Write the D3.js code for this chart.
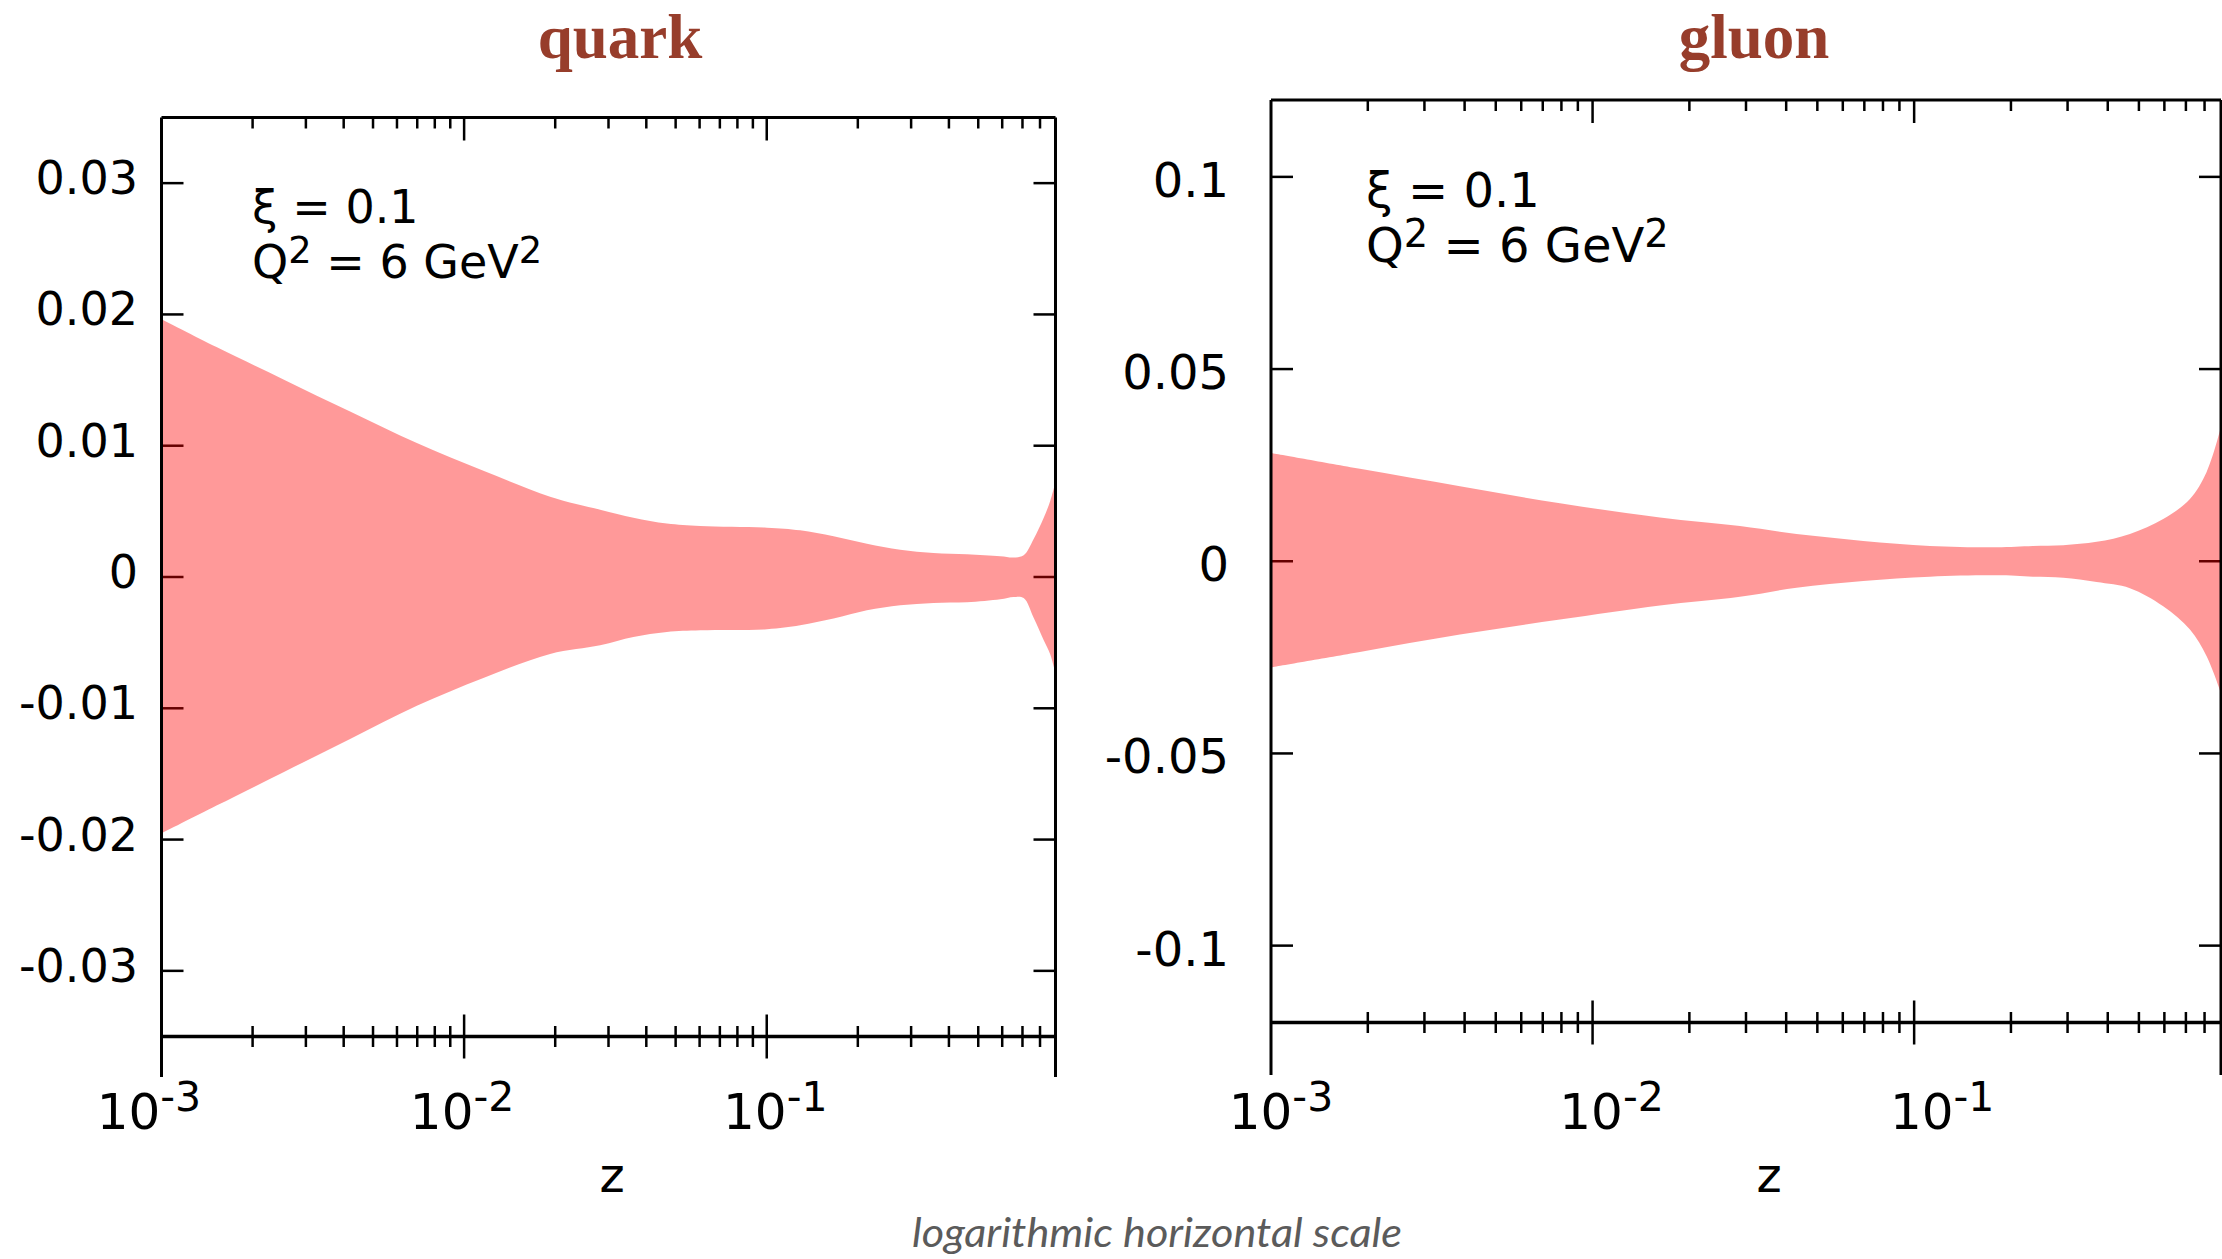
<!DOCTYPE html>
<html>
<head>
<meta charset="utf-8">
<title>quark / gluon bands</title>
<script src="https://cdn.jsdelivr.net/npm/d3@7"></script>
<style>
  body { margin: 0; background: #ffffff; }
  svg { display: block; }
</style>
</head>
<body>
<svg width="2222" height="1259" id="mainsvg"></svg>
<script>
// values; z on a log axis, band edges per panel
const quarkZ     = [0.001, 0.00152, 0.00253, 0.0042, 0.00698, 0.01158, 0.01924, 0.02816, 0.03627, 0.04678, 0.06031, 0.1002, 0.129, 0.1663, 0.2144, 0.2762, 0.3559, 0.4589, 0.5913, 0.6545, 0.7063, 0.7621, 0.8222, 0.865, 0.9];
const quarkUpper = [0.01964, 0.01752, 0.01505, 0.0126, 0.0102, 0.00809, 0.00612, 0.00513, 0.00452, 0.00407, 0.00389, 0.00376, 0.00356, 0.0031, 0.00254, 0.00208, 0.00183, 0.00173, 0.00158, 0.00148, 0.00165, 0.0029, 0.0045, 0.0058, 0.00724];
const quarkLower = [-0.01953, -0.01741, -0.01487, -0.01234, -0.00981, -0.00769, -0.00586, -0.0052, -0.00457, -0.00419, -0.00406, -0.00398, -0.00368, -0.00317, -0.00254, -0.00216, -0.00198, -0.00193, -0.0017, -0.00152, -0.0016, -0.0031, -0.0048, -0.0059, -0.00736];

const gluonZ     = [0.001, 0.00189, 0.00387, 0.00792, 0.0162, 0.02873, 0.0431, 0.0695, 0.112, 0.1805, 0.234, 0.2908, 0.3694, 0.4688, 0.595, 0.7205, 0.812, 0.9];
const gluonUpper = [0.02814, 0.02404, 0.01951, 0.01507, 0.01141, 0.00915, 0.00706, 0.0053, 0.004, 0.00366, 0.004, 0.00418, 0.00505, 0.0071, 0.0110, 0.0162, 0.0232, 0.0349];
const gluonLower = [-0.02761, -0.0236, -0.01908, -0.01516, -0.0115, -0.00925, -0.00688, -0.00514, -0.004, -0.00366, -0.004, -0.00427, -0.0054, -0.0070, -0.0117, -0.01777, -0.0247, -0.0343];

const quarkYTicks = [-0.03, -0.02, -0.01, 0, 0.01, 0.02, 0.03];
const gluonYTicks = [-0.1, -0.05, 0, 0.05, 0.1];
const xMajorTicks = [1e-3, 1e-2, 1e-1];
const xTickExponents = ['-3', '-2', '-1'];
const panelTitles = ['quark', 'gluon'];
const xiValue = '0.1';
const q2Value = '6';
const xLabel = 'z';
const footNote = 'logarithmic horizontal scale';

const svg = d3.select('#mainsvg');
const tickFont = '"DejaVu Sans", sans-serif';

// layout of each panel (pixels)
const panels = [
  { title: panelTitles[0], z: quarkZ, up: quarkUpper, lo: quarkLower, yTicks: quarkYTicks,
    left: 161.5, right: 1055.5, top: 117.5, bottom: 1036.5, frameBottom: 1077,
    yDomain: [-0.035, 0.035], yLabelX: 138, yLabelDy: 11, fontSize: 46,
    xLabShift: -2, xLabStretch: 0.035, titleX: 620, annX: 252, annY: 223, zX: 612 },
  { title: panelTitles[1], z: gluonZ, up: gluonUpper, lo: gluonLower, yTicks: gluonYTicks,
    left: 1271, right: 2221, top: 100, bottom: 1022.5, frameBottom: 1075,
    yDomain: [-0.12, 0.12], yLabelX: 1229, yLabelDy: 20, fontSize: 48,
    xLabShift: 19, xLabStretch: 0.028, titleX: 1754, annX: 1366, annY: 207, zX: 1769 }
];

// gnuplot style labels: plain hyphen for negatives
const fmtY = d => d === 0 ? '0' : String(+d.toFixed(3));

const drawPanel = function(p) {
  const x = d3.scaleLog().domain([1e-3, 0.9]).range([p.left, p.right]);
  const y = d3.scaleLinear().domain(p.yDomain).range([p.bottom, p.top]);
  const g = svg.append('g');

  // minor + major ticks on top and bottom
  const minor = [];
  xMajorTicks.forEach(d => { for (let k = 2; k <= 9; k++) { if (k * d < 0.9 - 1e-9) minor.push(k * d); } });
  const ticks = g.append('g').attr('stroke', '#000').attr('stroke-width', 2.5);
  minor.forEach(t => {
    ticks.append('line').attr('x1', x(t)).attr('x2', x(t)).attr('y1', p.top).attr('y2', p.top + 11);
    ticks.append('line').attr('x1', x(t)).attr('x2', x(t)).attr('y1', p.bottom - 10.5).attr('y2', p.bottom + 10.5);
  });
  xMajorTicks.slice(1).forEach(t => {
    ticks.append('line').attr('x1', x(t)).attr('x2', x(t)).attr('y1', p.top).attr('y2', p.top + 23);
    ticks.append('line').attr('x1', x(t)).attr('x2', x(t)).attr('y1', p.bottom - 22).attr('y2', p.bottom + 22);
  });
  p.yTicks.forEach(t => {
    ticks.append('line').attr('x1', p.left).attr('x2', p.left + 22).attr('y1', y(t)).attr('y2', y(t));
    ticks.append('line').attr('x1', p.right - 22).attr('x2', p.right).attr('y1', y(t)).attr('y2', y(t));
  });

  // the band, translucent red so ticks under it turn dark red
  const rows = p.z.map((z, i) => ({ z: z, up: p.up[i], lo: p.lo[i] }));
  const area = d3.area()
    .curve(d3.curveCatmullRom.alpha(0.5))
    .x(d => x(d.z))
    .y0(d => y(d.lo))
    .y1(d => y(d.up));
  g.append('path').datum(rows)
    .attr('d', area)
    .attr('fill', '#ff0000')
    .attr('fill-opacity', 0.4);

  // frame
  const frame = g.append('g').attr('stroke', '#000').attr('fill', 'none');
  frame.append('line').attr('x1', p.left).attr('x2', p.right).attr('y1', p.top).attr('y2', p.top).attr('stroke-width', 3);
  frame.append('line').attr('x1', p.left).attr('x2', p.right).attr('y1', p.bottom).attr('y2', p.bottom).attr('stroke-width', 3.5);
  frame.append('line').attr('x1', p.left).attr('x2', p.left).attr('y1', p.top).attr('y2', p.frameBottom).attr('stroke-width', 3);
  frame.append('line').attr('x1', p.right).attr('x2', p.right).attr('y1', p.top).attr('y2', p.frameBottom).attr('stroke-width', 3);

  // y tick labels
  g.append('g').selectAll('text').data(p.yTicks).join('text')
    .attr('x', p.yLabelX)
    .attr('y', d => y(d) + p.yLabelDy)
    .attr('text-anchor', 'end')
    .attr('font-family', tickFont)
    .attr('font-size', p.fontSize)
    .text(fmtY);

  // x tick labels 10^n
  const mid = x(1e-2);
  xMajorTicks.forEach((t, i) => {
    const lx = x(t) + p.xLabShift + (x(t) - mid) * p.xLabStretch;
    const txt = g.append('text')
      .attr('x', lx).attr('y', 1129)
      .attr('text-anchor', 'middle')
      .attr('font-family', tickFont)
      .attr('font-size', 50);
    txt.append('tspan').text('10');
    txt.append('tspan').attr('dy', -18).attr('font-size', 41).text(xTickExponents[i]);
  });

  // axis name
  g.append('text')
    .attr('x', p.zX).attr('y', 1192)
    .attr('text-anchor', 'middle')
    .attr('font-family', tickFont)
    .attr('font-size', 48)
    .text(xLabel);

  // annotation
  const sup = p.fontSize * 0.8;
  const a1 = g.append('text').attr('x', p.annX).attr('y', p.annY)
    .attr('font-family', tickFont).attr('font-size', p.fontSize);
  a1.text('ξ = ' + xiValue);
  const a2 = g.append('text').attr('x', p.annX).attr('y', p.annY + 55)
    .attr('font-family', tickFont).attr('font-size', p.fontSize);
  a2.append('tspan').text('Q');
  a2.append('tspan').attr('dy', -15).attr('font-size', sup).text('2');
  a2.append('tspan').attr('dy', 15).text(' = ' + q2Value + ' GeV');
  a2.append('tspan').attr('dy', -15).attr('font-size', sup).text('2');

  // panel title
  svg.append('text')
    .attr('x', p.titleX).attr('y', 58)
    .attr('text-anchor', 'middle')
    .attr('font-family', '"Liberation Serif", "DejaVu Serif", serif')
    .attr('font-weight', 'bold')
    .attr('font-size', 63)
    .attr('fill', '#973d2b')
    .text(p.title);
};

panels.forEach(drawPanel);

svg.append('text')
  .attr('x', 1157).attr('y', 1247)
  .attr('text-anchor', 'middle')
  .attr('font-family', 'Lato, "Open Sans", sans-serif')
  .attr('font-style', 'italic')
  .attr('font-size', 40)
  .attr('fill', '#5b5b5b')
  .attr('textLength', 490)
  .attr('lengthAdjust', 'spacingAndGlyphs')
  .text(footNote);
</script>
</body>
</html>
